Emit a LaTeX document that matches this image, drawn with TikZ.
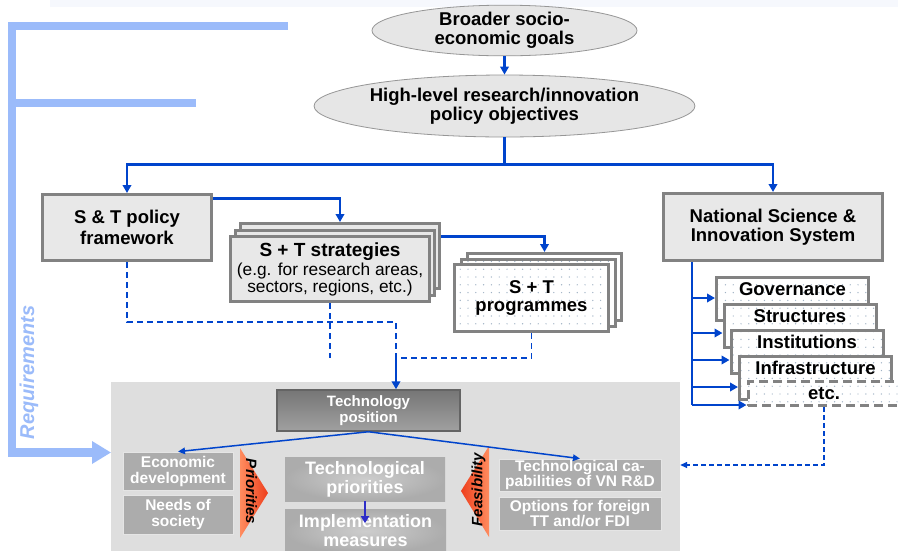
\documentclass[tikz,border=0pt]{standalone}
\usepackage{fontspec}
\setmainfont{Liberation Sans}
\usetikzlibrary{shapes.geometric,arrows.meta,calc,patterns.meta}

\definecolor{linkblue}{RGB}{0,68,204}
\definecolor{reqblue}{RGB}{155,187,250}
\definecolor{edgegray}{RGB}{130,130,130}
\definecolor{boxfill}{RGB}{232,232,232}
\definecolor{ovalfill}{RGB}{230,230,230}
\definecolor{ovaledge}{RGB}{150,150,150}
\definecolor{panelgray}{RGB}{222,222,222}
\definecolor{factorgray}{RGB}{172,172,172}
\definecolor{dotcol}{RGB}{160,178,196}
\definecolor{bandcol}{RGB}{246,248,253}
\definecolor{darkarrow}{RGB}{45,45,200}
\definecolor{posdark}{RGB}{118,118,118}
\definecolor{poslight}{RGB}{160,160,160}
\definecolor{posedge}{RGB}{100,100,100}
\definecolor{glowin}{RGB}{205,205,205}
\definecolor{glowout}{RGB}{172,172,172}
\definecolor{flaglight}{RGB}{255,140,95}
\definecolor{flagred}{RGB}{238,62,28}

% sparse dot grid used inside the programme and system boxes
\tikzdeclarepattern{
  name=sparsedots,
  type=uncolored,
  bottom left={(-1pt,-1pt)},
  top right={(1pt,1pt)},
  tile size={(7.8pt,7.8pt)},
  code={\fill (0pt,0pt) circle (0.7pt);}
}

\begin{document}
\begin{tikzpicture}[x=1pt,y=-1pt,
  bf/.style={font=\bfseries\fontsize{18.5}{18.5}\selectfont},
  goal/.style={ellipse, draw=ovaledge, line width=0.8pt, fill=ovalfill,
    inner sep=0pt, align=center, bf},
  policybox/.style={rectangle, draw=edgegray, line width=3pt, fill=boxfill,
    inner sep=0pt, align=center},
  dotbox/.style={rectangle, draw=edgegray, line width=3pt,
    preaction={fill=white}, pattern=sparsedots, pattern color=dotcol,
    inner sep=0pt, align=center},
  sysbox/.style={dotbox, minimum width=152pt, text height=18pt,
    text depth=25pt, inner ysep=0pt, bf},
  factor/.style={rectangle, fill=factorgray, draw=white!80!gray,
    line width=0.8pt, inner sep=0pt, align=center, text=white,
    font=\bfseries\fontsize{15.5}{16}\selectfont},
  stage/.style={rectangle, inner color=glowin, outer color=glowout,
    inner sep=0pt, align=center, text=white,
    font=\bfseries\fontsize{18}{19}\selectfont},
  flagtext/.style={inner sep=0pt, font=\bfseries\itshape\fontsize{15}{15}\selectfont},
  link/.style={draw=linkblue, line width=2.2pt,
    -{Triangle[length=8pt,width=8.5pt]}},
  thinlink/.style={draw=linkblue, line width=1.5pt,
    -{Triangle[length=7pt,width=6.5pt]}},
  dashlink/.style={draw=linkblue, line width=1.8pt, dash pattern=on 6pt off 4pt},
  feedback/.style={draw=linkblue, line width=1.4pt, dash pattern=on 5pt off 3pt,
    -{Triangle[length=7pt,width=6pt]}}
]
\useasboundingbox (0,0) rectangle (898,550);
\fill[white] (0,0) rectangle (898,550);
\fill[bandcol] (50,0) rectangle (898,7);

% goals
\node[goal, minimum width=265pt, minimum height=44pt] (goals) at (504.5,30.5)
  {Broader socio-\\economic goals};
\node[goal, minimum width=379pt, minimum height=62pt] (objectives) at (504.5,106)
  {High-level research/innovation\\policy objectives};
\draw[link] (goals) -- (objectives);

% policy framework and national system
\node[policybox, minimum width=169pt, minimum height=66pt,
  font=\bfseries\fontsize{18.5}{21}\selectfont] (frame) at (127,227.5)
  {S \& T policy\\framework};
\node[policybox, minimum width=219pt, minimum height=67pt, bf] (nsis) at (773,227)
  {National Science \&\\Innovation System};
\coordinate (split) at ($(objectives.south)+(0,27)$);
\draw[draw=linkblue, line width=2.2pt] (objectives.south) -- (split);
\draw[link] (split) -| (frame.north);
\draw[link] (split) -| (nsis.north);

% strategies stack
\node[policybox, minimum width=199pt, minimum height=65pt] (strat3) at (340,256) {};
\node[policybox, minimum width=199pt, minimum height=65pt] (strat2) at (335,262.5) {};
\node[policybox, minimum width=199pt, minimum height=65pt,
  font=\fontsize{17.3}{16.5}\selectfont] (strat) at (330,269)
  {{\bfseries\fontsize{19}{19}\selectfont S + T strategies}\\[2pt](e.g. for research areas,\\sectors, regions, etc.)};
\draw[link] ($(frame.north east)+(0,5.5)$) -| (strat3.north);

% programmes stack
\node[dotbox, minimum width=154pt, minimum height=67pt] (prog3) at (544.5,287) {};
\node[dotbox, minimum width=154pt, minimum height=67pt] (prog2) at (538,292.5) {};
\node[dotbox, minimum width=154pt, minimum height=67pt, bf] (prog) at (531.5,298)
  {S + T\\programmes};
\draw[link] ($(strat3.north east)+(0,14.5)$) -| (prog3.north);

% components of the national system
\node[sysbox] (gov) at (792.5,299.3) {Governance};
\node[sysbox] (struct) at (800,325.7) {Structures};
\node[sysbox] (inst) at (807,351.5) {Institutions};
\node[sysbox] (infra) at (815.5,378) {Infrastructure};
\node[dotbox, dash pattern=on 9pt off 5pt, minimum width=152pt,
  text height=17.5pt, text depth=6.5pt, inner ysep=0pt, bf] (etc) at (824,393.7) {etc.};
\coordinate (spine) at ($(nsis.south west)+(30,0)$);
\coordinate (spineEnd) at (spine |- 0,405);
\draw[draw=linkblue, line width=2.2pt] (spine) -- (spineEnd);
\coordinate (govIn) at (gov.west |- 0,298);
\coordinate (structIn) at (struct.west |- 0,333);
\coordinate (instIn) at (inst.west |- 0,360);
\coordinate (infraIn) at (infra.west |- 0,387);
\coordinate (etcIn) at (etc.west |- 0,405);
\foreach \t in {govIn,structIn,instIn,infraIn,etcIn}
  \draw[link] (spine |- \t) -- (\t);

% technology assessment panel
\node[rectangle, fill=panelgray, minimum width=569pt, minimum height=170pt,
  inner sep=0pt] (panel) at (395.5,467) {};

% requirements bracket
\fill[reqblue] (8,22) rectangle (16,457);
\fill[reqblue] (8,22) rectangle (288,30);
\fill[reqblue] (8,99) rectangle (196,107);
\fill[reqblue] (8,448) rectangle (95,457);
\fill[reqblue] (92,441) -- (panel.west |- 0,452.5) -- (92,464) -- cycle;
\node[rotate=90, text=reqblue, inner sep=0pt,
  font=\bfseries\itshape\fontsize{20}{20}\selectfont] (req) at (29,372.5) {Requirements};

% flows into the panel
\coordinate (corner) at (396,322);
\coordinate (join) at (396,358);
\draw[dashlink] (frame.south) |- (corner) -- (join);
\draw[dashlink] (strat.south) -- ++(0,54.5);
\draw[dashlink] (prog.south) |- (join);

\node[rectangle, draw=posedge, line width=1.5pt, top color=posdark,
  bottom color=poslight, minimum width=183pt, minimum height=41pt,
  inner sep=0pt, align=center, text=white,
  font=\bfseries\fontsize{15}{16}\selectfont] (techpos) at (368.5,410.5)
  {Technology\\position};
\draw[draw=linkblue, line width=2.2pt, -{Triangle[length=8pt,width=8.5pt]}]
  (join) -- (join |- techpos.north);

% demand side
\node[factor, minimum width=110pt, minimum height=38pt] (econ) at (178,471)
  {Economic\\development};
\node[factor, minimum width=110pt, minimum height=39pt] (needs) at (178,514.5)
  {Needs of\\society};
\shade[left color=flaglight, right color=flagred]
  (240,448) -- (268,493) -- (240,538) -- cycle;
\node[flagtext, rotate=-90] (prio) at (251.5,491.5) {Priorities};

% core stages
\node[stage, minimum width=160pt, minimum height=44pt] (techprio) at (365,479)
  {Technological\\priorities};
\node[stage, minimum width=161pt, minimum height=44pt] (impl) at (365.5,531)
  {Implementation\\measures};
\draw[draw=darkarrow, line width=2.5pt, -{Triangle[length=7pt,width=8pt]}]
  (techprio.south) -- ++(0,22);

% supply side
\node[factor, minimum width=162pt, minimum height=32pt,
  font=\bfseries\fontsize{15.5}{15.5}\selectfont] (cap) at (580,475)
  {Technological ca-\\pabilities of VN R\&D};
\node[factor, minimum width=162pt, minimum height=33pt,
  font=\bfseries\fontsize{15.5}{15.5}\selectfont] (opt) at (580,513.5)
  {Options for foreign\\TT and/or FDI};
\shade[left color=flagred, right color=flaglight]
  (489,446) -- (461,491) -- (489,537) -- cycle;
\node[flagtext, rotate=90] (feas) at (478.5,489.5) {Feasibility};

\draw[thinlink] (techpos.south) -- (econ.north);
\draw[thinlink] (techpos.south) -- (cap.north);

% feedback from the national system
\coordinate (etcDrop) at (etc.south |- 0,465);
\draw[feedback] (etc.south) -- (etcDrop) -- (etcDrop -| panel.east);
\end{tikzpicture}
\end{document}
